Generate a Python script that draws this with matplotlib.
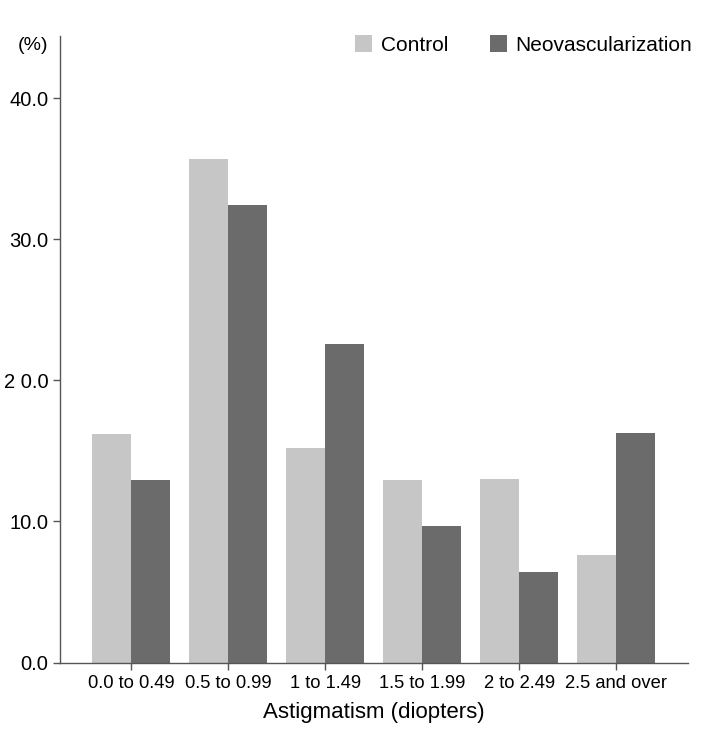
import matplotlib
matplotlib.use('Agg')
import matplotlib.pyplot as plt
import numpy as np

categories = ['0.0 to 0.49', '0.5 to 0.99', '1 to 1.49', '1.5 to 1.99', '2 to 2.49', '2.5 and over']
control = [16.2, 35.7, 15.2, 12.9, 13.0, 7.6]
neo = [12.9, 32.4, 22.6, 9.7, 6.4, 16.3]
yticks = [0, 10, 20, 30, 40]
ytick_labels = ['0.0', '10.0', '2 0.0', '30.0', '40.0']

plt.rcParams['font.family'] = ['Liberation Sans Narrow', 'Liberation Sans', 'DejaVu Sans']

fig = plt.figure(figsize=(7.03, 7.31), dpi=100)
ax = fig.add_axes([60/703, 1-662.5/731, (688-60)/703, (662.5-36)/731])

x = np.arange(len(categories))
w = 0.4
ax.bar(x - w/2, control, w, color='#c6c6c6', label='Control')
ax.bar(x + w/2, neo, w, color='#6b6b6b', label='Neovascularization')

ax.set_xlim(-0.735, 5.74)
ax.set_ylim(0, 44.4)
ax.set_xticks(x)
ax.set_xticklabels(categories, fontsize=13.2)
ax.set_yticks(yticks)
ax.set_yticklabels(ytick_labels, fontsize=14.5)
ax.tick_params(direction='out', length=5, width=1, color='#555555')
ax.tick_params(axis='x', pad=4)

for s in ['top', 'right']:
    ax.spines[s].set_visible(False)
for s in ['left', 'bottom']:
    ax.spines[s].set_color('#555555')
    ax.spines[s].set_linewidth(1)

ax.set_xlabel('Astigmatism (diopters)', fontsize=16, labelpad=7)
fig.text(33/703, 1-45/731, '(%)', fontsize=14, ha='center', va='center')

ax.legend(loc='center right', bbox_to_anchor=(692/703, 1-45/731),
          bbox_transform=fig.transFigure, ncol=2, frameon=False,
          fontsize=15, handlelength=0.82, handleheight=0.82, columnspacing=2.0,
          handletextpad=0.4, borderaxespad=0.0, borderpad=0.0)

fig.savefig('out.png', dpi=100)
